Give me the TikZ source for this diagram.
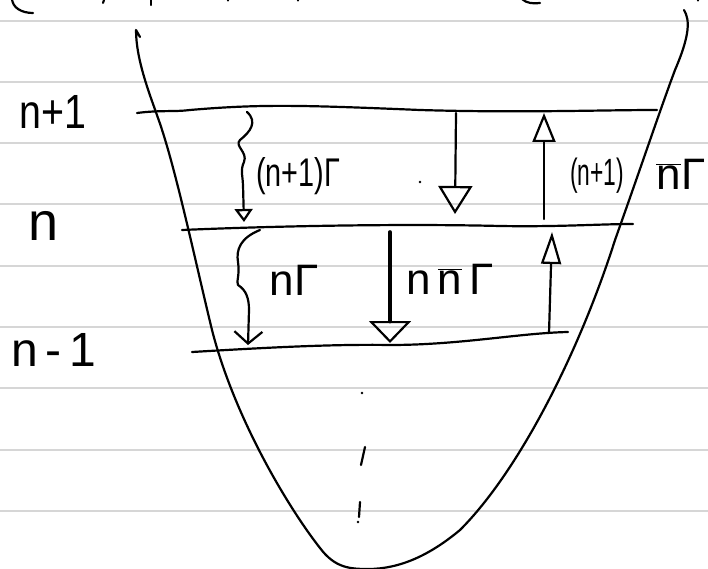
\documentclass[tikz,border=0pt]{standalone}
\usepackage{fontspec}
\setmainfont{Liberation Sans}
\usetikzlibrary{arrows.meta}
\newcommand{\nbar}{$\overline{\mbox{n}}$}
\begin{document}
\begin{tikzpicture}[x=1pt,y=-1pt,
  ink/.style={line width=2.2pt, line cap=round, line join=round},
  rule/.style={draw=black!16, line width=2.6pt},
  lbl/.style={font=\fontsize{44}{46}\selectfont, inner sep=0pt},
  lvl/.style={font=\fontsize{48}{50}\selectfont, inner sep=0pt}]
\useasboundingbox (0,0) rectangle (708,569);
% notebook rules
\foreach \yy in {21,82,143,204,266,327,388,450,511}
  \draw[rule] (0,\yy) -- (708,\yy);
% cut-off strokes at the top edge
\draw[ink] (12,-2) .. controls (12,8) and (22,13) .. (33,13);
\draw[ink] (104,0) -- (103,3);
\draw[ink] (151,0) -- (151,5);
\fill (228,0.5) circle (1.1);
\fill (298,0.5) circle (1.1);
\draw[ink] (522,-1) .. controls (526,3) and (533,4) .. (540,3);
\fill (698,0.5) circle (1.1);
% potential well
\draw[ink] (140,37) -- (136,30)
  .. controls (136,60) and (150,95) .. (158,118)
  .. controls (175,165) and (195,260) .. (212,330)
  .. controls (235,420) and (290,510) .. (320,548)
  .. controls (335,568) and (350,569) .. (368,569)
  .. controls (400,569) and (430,555) .. (460,530)
  .. controls (520,470) and (580,350) .. (615,240)
  .. controls (640,170) and (660,110) .. (675,70)
  .. controls (690,35) and (690,20) .. (684,10);
% level lines
\coordinate (l1a) at (137,113); \coordinate (l1b) at (657,110);
\coordinate (l2a) at (182,230); \coordinate (l2b) at (633,224);
\coordinate (l3a) at (192,352); \coordinate (l3b) at (568,332);
\draw[ink] (l1a) .. controls (160,110) and (175,112) .. (190,110)
  .. controls (260,104) and (300,105) .. (420,110) .. controls (520,113) and (600,110) .. (l1b);
\draw[ink] (l2a) .. controls (300,225) and (420,224) .. (500,226) .. controls (560,227) and (600,224) .. (l2b);
\draw[ink] (l3a) .. controls (260,348) and (330,344) .. (390,345) .. controls (460,345) and (520,333) .. (l3b);
% level labels
\node[lvl] (ln1) at (53,112) {\scalebox{0.82}[1]{n+1}};
\node[lvl,font=\fontsize{54}{56}\selectfont] (ln) at (44,226) {n};
\node[lvl] (ln0) at (54,350) {n\,-\,1};
% arrows between n+1 and n
\coordinate (a1s) at (247,112); \coordinate (a1e) at (244,222);
\draw[ink,-{Triangle[open,length=13pt,width=18pt]}] (a1s)
  .. controls (258,122) and (250,132) .. (240,140)
  .. controls (234,146) and (248,152) .. (244,162)
  .. controls (240,170) and (243,178) .. (243,185) -- (a1e);
\node[lbl,font=\fontsize{40}{42}\selectfont] (t1) at (298,176) {\scalebox{0.72}[1]{(n+1)Γ}};
\fill (420,182) circle (1.3);
\coordinate (a2s) at (456,113); \coordinate (a2e) at (455,214);
\draw[ink,-{Triangle[open,length=28pt,width=34pt]}] (a2s) -- (a2e);
\coordinate (a3s) at (544,219); \coordinate (a3e) at (544,113);
\draw[ink,-{Triangle[open,length=29pt,width=23pt]}] (a3s) -- (a3e);
\node[lbl,font=\fontsize{38}{40}\selectfont] (t2) at (597,176) {\scalebox{0.6}[1]{(n+1)}};
\node[lbl] (t3) at (681,174) {\nbar\kern1ptΓ};
% arrows between n and n-1
\coordinate (a4s) at (260,230); \coordinate (a4e) at (248,345);
\draw[ink,-{Straight Barb[length=12pt,width=28pt]}] (a4s)
  .. controls (240,238) and (236,250) .. (238,262)
  .. controls (240,275) and (236,282) .. (238,285)
  .. controls (246,290) and (249,298) .. (249,310) -- (a4e);
\node[lbl] (t4) at (294,280) {nΓ};
\coordinate (a5s) at (390,232); \coordinate (a5e) at (390,343);
\draw[ink,line width=3.6pt,-{Triangle[open,length=22pt,width=42pt,line width=2.2pt]}] (a5s) -- (a5e);
\node[lbl] (t5) at (450,279) {n\,\nbar\,Γ};
\coordinate (a6s) at (549,333); \coordinate (a6e) at (552,232);
\draw[ink,-{Triangle[open,length=32pt,width=20pt]}] (a6s) -- (a6e);
% ellipsis
\fill (362,393) circle (1.4);
\draw[ink] (365,447) -- (361,465);
\draw[ink] (360,502) -- (359,517);
\fill (358,522) circle (1.3);
\end{tikzpicture}
\end{document}
